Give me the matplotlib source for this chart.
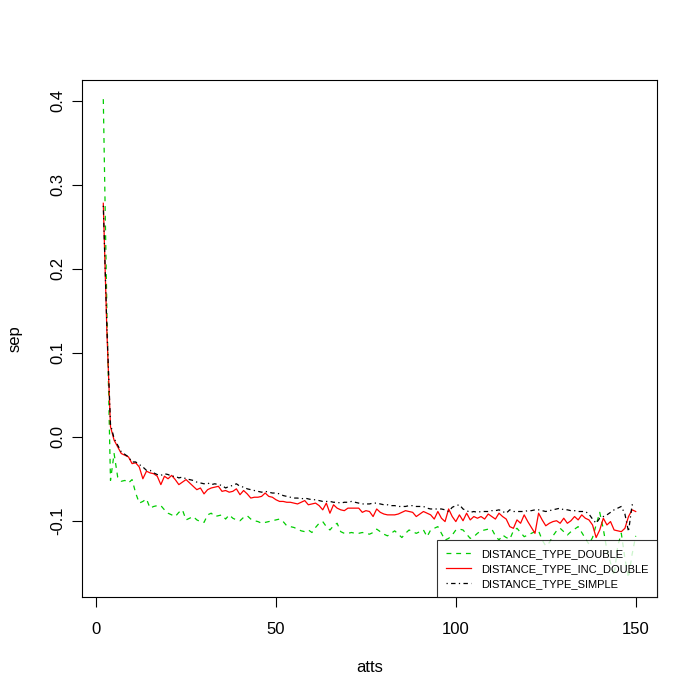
import matplotlib
matplotlib.use("Agg")
import matplotlib.pyplot as plt
from matplotlib.lines import Line2D

plt.rcParams['font.family'] = ['Liberation Sans', 'DejaVu Sans']
plt.rcParams['axes.unicode_minus'] = False
plt.rcParams['lines.scale_dashes'] = False

atts = list(range(2, 151))

inc_double = [
    0.278, 0.125, 0.012, -0.004, -0.012, -0.020, -0.022, -0.024, -0.032,
    -0.031, -0.036, -0.050, -0.041, -0.043, -0.044, -0.047, -0.057, -0.047, -0.050,
    -0.046, -0.051, -0.057, -0.054, -0.051, -0.055, -0.059, -0.063, -0.061, -0.068,
    -0.063, -0.061, -0.060, -0.059, -0.065, -0.064, -0.066, -0.065, -0.062, -0.069,
    -0.064, -0.068, -0.073, -0.072, -0.072, -0.071, -0.067, -0.071, -0.072, -0.075,
    -0.077, -0.077, -0.078, -0.078, -0.079, -0.080, -0.078, -0.076, -0.081, -0.080,
    -0.079, -0.082, -0.087, -0.079, -0.091, -0.081, -0.085, -0.087, -0.088, -0.085,
    -0.085, -0.085, -0.085, -0.090, -0.088, -0.089, -0.095, -0.086, -0.090, -0.092,
    -0.093, -0.093, -0.093, -0.092, -0.090, -0.088, -0.089, -0.090, -0.095, -0.092,
    -0.089, -0.091, -0.093, -0.098, -0.089, -0.097, -0.101, -0.086, -0.095, -0.101,
    -0.093, -0.100, -0.091, -0.099, -0.095, -0.097, -0.095, -0.098, -0.092, -0.095,
    -0.098, -0.091, -0.095, -0.098, -0.107, -0.109, -0.099, -0.103, -0.093, -0.101,
    -0.108, -0.115, -0.091, -0.099, -0.106, -0.103, -0.101, -0.100, -0.103, -0.097,
    -0.103, -0.100, -0.095, -0.099, -0.093, -0.097, -0.099, -0.105, -0.120, -0.111,
    -0.097, -0.105, -0.101, -0.111, -0.112, -0.113, -0.109, -0.095, -0.087, -0.089,
]

simple = [
    0.275, 0.130, 0.015, -0.002, -0.010, -0.018, -0.021, -0.024, -0.030,
    -0.030, -0.033, -0.036, -0.040, -0.040, -0.043, -0.045, -0.046, -0.044, -0.045,
    -0.047, -0.047, -0.049, -0.048, -0.050, -0.051, -0.052, -0.054, -0.055, -0.056,
    -0.055, -0.057, -0.056, -0.057, -0.058, -0.061, -0.059, -0.058, -0.056, -0.059,
    -0.060, -0.062, -0.063, -0.064, -0.065, -0.066, -0.065, -0.066, -0.067, -0.067,
    -0.068, -0.070, -0.071, -0.072, -0.073, -0.073, -0.074, -0.073, -0.074, -0.075,
    -0.075, -0.076, -0.077, -0.077, -0.077, -0.078, -0.078, -0.079, -0.078, -0.078,
    -0.077, -0.078, -0.079, -0.080, -0.080, -0.080, -0.079, -0.079, -0.080, -0.081,
    -0.081, -0.082, -0.082, -0.083, -0.083, -0.083, -0.082, -0.082, -0.083, -0.083,
    -0.083, -0.085, -0.086, -0.086, -0.086, -0.086, -0.087, -0.089, -0.084, -0.082,
    -0.081, -0.086, -0.088, -0.090, -0.089, -0.090, -0.089, -0.089, -0.089, -0.088,
    -0.088, -0.087, -0.089, -0.091, -0.087, -0.089, -0.089, -0.089, -0.089, -0.088,
    -0.088, -0.087, -0.087, -0.088, -0.089, -0.088, -0.087, -0.086, -0.085, -0.087,
    -0.087, -0.088, -0.088, -0.089, -0.089, -0.089, -0.092, -0.098, -0.103, -0.097,
    -0.095, -0.093, -0.090, -0.087, -0.085, -0.083, -0.092, -0.113, -0.081, -0.082,
]

double = [
    0.402, 0.150, -0.052, -0.020, -0.048, -0.053, -0.052, -0.055, -0.051,
    -0.067, -0.079, -0.077, -0.074, -0.085, -0.083, -0.082, -0.082, -0.087, -0.091,
    -0.093, -0.095, -0.090, -0.087, -0.099, -0.097, -0.095, -0.099, -0.101, -0.102,
    -0.093, -0.091, -0.095, -0.094, -0.093, -0.098, -0.093, -0.097, -0.099, -0.100,
    -0.096, -0.094, -0.098, -0.100, -0.101, -0.103, -0.102, -0.101, -0.100, -0.099,
    -0.098, -0.101, -0.106, -0.107, -0.108, -0.110, -0.112, -0.113, -0.111, -0.114,
    -0.108, -0.103, -0.101, -0.107, -0.111, -0.106, -0.103, -0.113, -0.115, -0.115,
    -0.114, -0.115, -0.115, -0.114, -0.115, -0.116, -0.114, -0.110, -0.113, -0.116,
    -0.118, -0.115, -0.112, -0.116, -0.120, -0.115, -0.111, -0.113, -0.115, -0.113,
    -0.111, -0.119, -0.111, -0.109, -0.107, -0.115, -0.123, -0.121, -0.117, -0.111,
    -0.110, -0.111, -0.116, -0.121, -0.119, -0.115, -0.112, -0.111, -0.110, -0.110,
    -0.118, -0.123, -0.117, -0.120, -0.122, -0.112, -0.109, -0.114, -0.119, -0.117,
    -0.115, -0.113, -0.112, -0.123, -0.130, -0.126, -0.118, -0.112, -0.109, -0.113,
    -0.117, -0.113, -0.110, -0.107, -0.114, -0.121, -0.128, -0.120, -0.105, -0.090,
    -0.110, -0.135, -0.150, -0.165, -0.130, -0.115, -0.145, -0.168, -0.140, -0.118,
]

labels = ["DISTANCE_TYPE_DOUBLE", "DISTANCE_TYPE_INC_DOUBLE", "DISTANCE_TYPE_SIMPLE"]
colors = ["#00CD00", "#FF0000", "#000000"]
styles = [(0, (3.5, 3.5)), "-", (0, (0.9, 2.4, 3.2, 2.4))]
series = [double, inc_double, simple]

fig = plt.figure(figsize=(7, 7), dpi=100)
ax = fig.add_axes([82 / 700, 103 / 700, 575 / 700, 517 / 700])

for ys, c, ls in zip(series, colors, styles):
    ax.plot(atts, ys, color=c, linestyle=ls, linewidth=0.9)

ax.margins(x=0.04, y=0.04)
ax.set_xticks([0, 50, 100, 150])
ax.set_yticks([-0.1, 0.0, 0.1, 0.2, 0.3, 0.4])
ax.set_yticklabels(["%.1f" % v for v in [-0.1, 0.0, 0.1, 0.2, 0.3, 0.4]],
                   rotation=90, va="center")
ax.tick_params(axis="both", direction="out", length=7.2, width=0.8,
               labelsize=12, color="black")
ax.tick_params(axis="x", pad=11)
ax.tick_params(axis="y", pad=5)
for s in ax.spines.values():
    s.set_linewidth(0.8)
    s.set_color("black")

fig.text(369.5 / 700, 1 - 667 / 700, "atts", ha="center", va="center", fontsize=12)
fig.text(15 / 700, 1 - 338.5 / 700, "sep", ha="center", va="center",
         rotation=90, fontsize=12)

handles = [Line2D([0], [0], color=c, linestyle=ls, linewidth=0.9)
           for c, ls in zip(colors, styles)]
leg = ax.legend(handles, labels, loc="lower right", fontsize=8,
                frameon=True, fancybox=False, borderaxespad=0,
                handlelength=2.3, handletextpad=0.9, labelspacing=0.45,
                borderpad=0.75)
leg.get_frame().set_edgecolor("black")
leg.get_frame().set_linewidth(0.8)

fig.savefig("out.png", dpi=100, facecolor="white")
